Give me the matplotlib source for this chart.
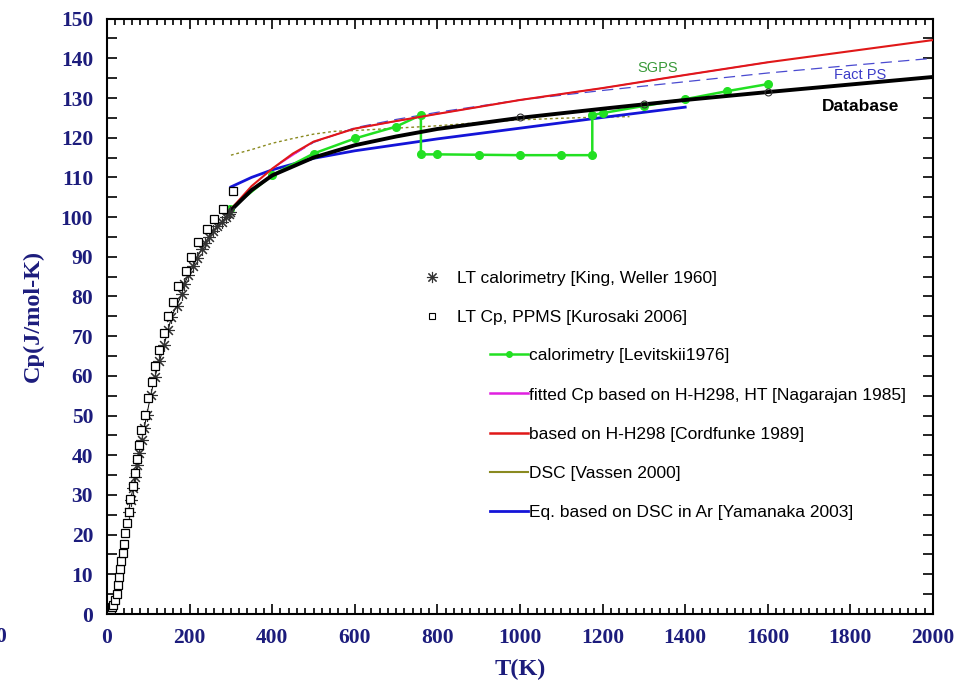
import matplotlib

matplotlib.use("Agg")
import matplotlib.pyplot as plt
from matplotlib.lines import Line2D
from matplotlib.ticker import MultipleLocator

NAVY = "#1c1c7c"

# LT calorimetry [King, Weller 1960]
king_t = [52, 57, 63, 68, 73, 78, 84, 90, 96, 106, 116, 127, 138, 148, 156, 169, 181, 187,
          197, 209, 217, 229, 237, 247, 257, 267, 278, 287, 295, 298]
king_cp = [25.8, 28.8, 31.7, 34.6, 37.5, 40.6, 43.9, 46.8, 50.1, 55.2, 59.8, 63.7, 67.8, 71.5,
           74.9, 77.7, 80.6, 83.1, 85.4, 87.7, 89.6, 91.9, 93.4, 95.0, 96.5, 97.7, 98.8, 99.9,
           100.9, 101.3]

# LT Cp, PPMS [Kurosaki 2006]
kuro_t = [2, 4, 6, 8, 10, 12, 15, 19, 23, 27, 29, 31, 35, 38, 42, 44, 48, 52, 56, 62, 67, 72,
          77, 83, 93, 100, 109, 117, 127, 138, 148, 159, 173, 190, 204, 220, 241, 259, 280, 304]
kuro_cp = [0.05, 0.2, 0.5, 0.9, 1.3, 1.7, 2.3, 3.5, 5.0, 7.3, 9.3, 11.3, 13.4, 15.4, 17.6, 20.4,
           23.0, 25.8, 29.0, 32.2, 35.5, 39.0, 42.6, 46.3, 50.1, 54.4, 58.5, 62.5, 66.5, 70.8,
           75.1, 78.7, 82.7, 86.5, 90.0, 93.8, 96.9, 99.5, 102.0, 106.5]

# calorimetry [Levitskii1976]
levit_t = [298, 400, 500, 600, 700, 760, 760, 800, 900, 1000, 1100, 1175, 1175, 1200, 1300,
           1400, 1500, 1600]
levit_cp = [102.0, 110.6, 116.0, 119.8, 122.8, 125.7, 115.8, 115.8, 115.7, 115.6, 115.6, 115.6,
            125.7, 126.2, 128.0, 129.7, 131.7, 133.5]

# based on H-H298 [Cordfunke 1989]
cord_t = [300, 350, 400, 450, 500, 600, 700, 800, 1000, 1200, 1400, 1600, 1800, 2000]
cord_cp = [102.0, 107.8, 112.2, 116.0, 119.0, 122.3, 124.2, 126.0, 129.5, 132.5, 135.8, 139.0,
           141.8, 144.6]

# fitted Cp based on H-H298, HT [Nagarajan 1985] (hidden under Cordfunke)
naga_t = [400, 500, 600, 800, 1000, 1200, 1400, 1600]
naga_cp = [112.2, 119.0, 122.3, 126.0, 129.5, 132.5, 135.8, 139.0]

# DSC [Vassen 2000]
vassen_t = [300, 350, 400, 450, 500, 550, 600, 700, 800, 900, 1000, 1100, 1200, 1265]
vassen_cp = [115.6, 117.0, 118.6, 119.8, 120.9, 121.6, 121.8, 122.4, 123.0, 123.8, 124.5,
             124.9, 125.2, 125.3]

# Eq. based on DSC in Ar [Yamanaka 2003]
yama_t = [300, 350, 400, 500, 600, 800, 1000, 1200, 1400]
yama_cp = [107.6, 110.0, 111.9, 114.8, 116.7, 119.7, 122.4, 125.1, 127.7]

# Fact PS
fact_t = [420, 500, 600, 700, 800, 1000, 1200, 1400, 1600, 1800, 2000]
fact_cp = [113.8, 118.8, 122.5, 124.6, 126.4, 129.5, 131.9, 134.1, 136.3, 138.2, 140.0]

# Database
db_t = [298, 350, 400, 500, 600, 700, 800, 1000, 1200, 1400, 1600, 1800, 2000]
db_cp = [101.5, 106.8, 110.5, 115.0, 118.1, 120.3, 122.2, 125.0, 127.3, 129.5, 131.5, 133.4,
         135.3]
db_pts_t = [1000, 1300, 1600]
db_pts_cp = [125.1, 128.5, 131.5]

fig = plt.figure(figsize=(9.74, 6.82), dpi=100)
ax = fig.add_axes([0.1099, 0.0997, 0.848, 0.873])

ax.plot(vassen_t, vassen_cp, color="#8a8a20", lw=1.0, ls=(0, (2, 2)), zorder=2)
ax.plot(fact_t, fact_cp, color="#4a4ad0", lw=0.9, ls=(0, (9, 5)), zorder=3)
ax.plot(yama_t, yama_cp, color="#1414d8", lw=2.0, zorder=4)
ax.plot(levit_t, levit_cp, color="#22e022", lw=1.8, marker="o", ms=5.5, zorder=5)
ax.plot(naga_t, naga_cp, color="#e020e0", lw=1.0, zorder=5)
ax.plot(cord_t, cord_cp, color="#e01818", lw=1.5, zorder=6)
ax.plot(db_t, db_cp, color="black", lw=2.8, zorder=7)
ax.plot(db_pts_t, db_pts_cp, ls="none", marker="o", ms=5, mfc="none", mec="#333333",
        mew=0.8, zorder=8)

ax.plot(king_t, king_cp, color="black", lw=0.7, marker=".", ms=3, zorder=9)
ax.plot(king_t, king_cp, ls="none", marker=(8, 2, 0), ms=9, mec="#333333", mew=0.8,
        zorder=9)
ax.plot(kuro_t, kuro_cp, ls="none", marker="s", ms=6, mfc="white", mec="black", mew=0.9,
        zorder=10)

ax.set_xlim(0, 2000)
ax.set_ylim(0, 150)
ax.xaxis.set_major_locator(MultipleLocator(200))
ax.xaxis.set_minor_locator(MultipleLocator(20))
ax.yaxis.set_major_locator(MultipleLocator(10))
ax.yaxis.set_minor_locator(MultipleLocator(5))
ax.tick_params(which="both", direction="in", top=True, right=True, width=1.2, color="black")
ax.tick_params(which="major", length=7, pad=10)
ax.tick_params(which="minor", length=4)
ax.tick_params(axis="y", which="minor", length=7)
for spine in ax.spines.values():
    spine.set_linewidth(1.5)

for lab in ax.get_xticklabels() + ax.get_yticklabels():
    lab.set_fontfamily("Liberation Serif")
    lab.set_fontweight("bold")
    lab.set_fontsize(15.5)
    lab.set_color(NAVY)

ax.set_xlabel("T(K)", family="Liberation Serif", weight="bold", size=17.5, color=NAVY,
              labelpad=8)
ax.set_ylabel("Cp(J/mol-K)", family="Liberation Serif", weight="bold", size=17.5, color=NAVY,
              labelpad=12)

# stray clipped tick label at the left edge
fig.text(-0.005, 0.058, "0", family="Liberation Serif", weight="bold", size=15.5, color=NAVY)

ax.text(1283, 136.6, "SGPS", color="#3a9a3a", fontsize=10.5, family="Liberation Sans")
ax.text(1760, 134.8, "Fact PS", color="#3c3cc8", fontsize=10.5, family="Liberation Sans")
ax.text(1731, 126.7, "Database", color="black", fontsize=12.5, weight="bold",
        family="Liberation Sans")

leg_font = {"family": "Liberation Sans", "size": 12.5}
h1 = [Line2D([], [], ls="none", marker=(8, 2, 0), ms=8, mec="#333333", mew=0.8),
      Line2D([], [], ls="none", marker="s", ms=4.5, mfc="white", mec="black", mew=0.8)]
leg1 = ax.legend(h1, ["LT calorimetry [King, Weller 1960]", "LT Cp, PPMS [Kurosaki 2006]"],
                 loc="upper left", bbox_to_anchor=(0.374, 0.588), frameon=False, prop=leg_font,
                 handlelength=1.0, handletextpad=0.95, labelspacing=1.38, borderaxespad=0)
ax.add_artist(leg1)

h2 = [Line2D([], [], color="#22e022", lw=1.8, marker="o", ms=4, markevery=[1]),
      Line2D([], [], color="#e020e0", lw=1.8),
      Line2D([], [], color="#e01818", lw=1.8),
      Line2D([], [], color="#8a8a20", lw=1.5),
      Line2D([], [], color="#1414d8", lw=2.0)]
labels2 = ["calorimetry [Levitskii1976]", "fitted Cp based on H-H298, HT [Nagarajan 1985]",
           "based on H-H298 [Cordfunke 1989]", "DSC [Vassen 2000]",
           "Eq. based on DSC in Ar [Yamanaka 2003]"]
ax.legend(h2, labels2, loc="upper left", bbox_to_anchor=(0.455, 0.458), frameon=False,
          prop=leg_font, handlelength=2.2, handletextpad=0.05, labelspacing=1.38,
          borderaxespad=0)

fig.savefig("out.png", dpi=100, facecolor="white")
